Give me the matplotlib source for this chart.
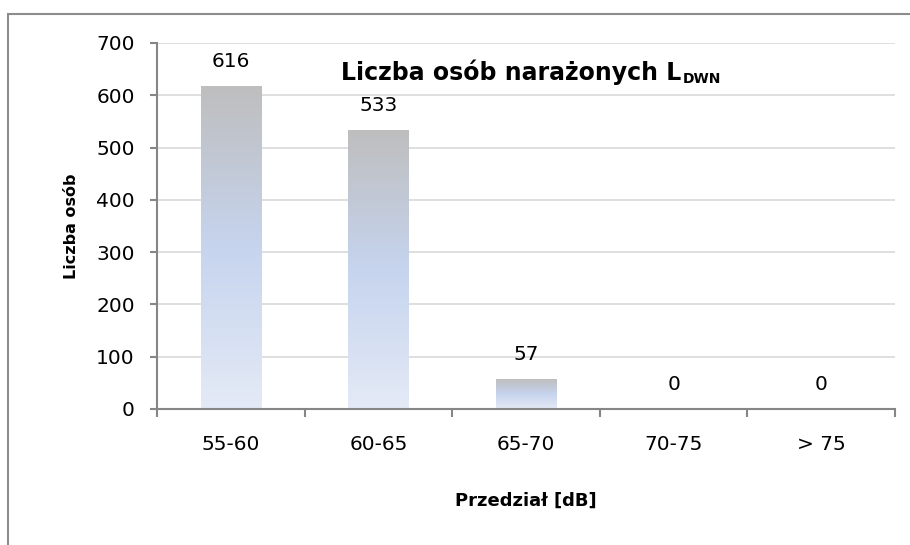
import matplotlib
matplotlib.use('Agg')

import matplotlib.pyplot as plt
import numpy as np
from matplotlib.colors import LinearSegmentedColormap
from matplotlib.patches import Rectangle

plt.rcParams['font.family'] = ['DejaVu Sans']

# --- Data ---
categories = ['55-60', '60-65', '65-70', '70-75', '> 75']
counts = [616, 533, 57, 0, 0]

axis_grey = '#868686'
grid_grey = '#D9D9D9'

fig = plt.figure(figsize=(9.10, 5.45), dpi=100)

# chart area frame (only left/top edges visible, like the source)
fig.patches.append(Rectangle((8 / 910, -0.1), 1.2, 1 - 14 / 545 + 0.1,
                             transform=fig.transFigure, fill=False,
                             edgecolor='#8C8C8C', linewidth=1.5))

ax = fig.add_axes([157 / 910, 1 - 409 / 545, (895 - 157) / 910, (409 - 43) / 545])

x = np.arange(len(categories))
width = 0.41

# bar gradient: grey at the top -> light blue -> very light at the bottom
cmap = LinearSegmentedColormap.from_list(
    'bar', [(0.0, '#E4EAF6'), (0.5, '#C6D4EE'), (1.0, '#BEBEBE')])
grad = np.linspace(0, 1, 256).reshape(-1, 1)

bars = ax.bar(x, counts, width=width, color='none', edgecolor='none')
for b, v in zip(bars, counts):
    if v <= 0:
        continue
    x0 = b.get_x()
    ax.imshow(grad, cmap=cmap, origin='lower', aspect='auto',
              extent=(x0, x0 + b.get_width(), 0, v), zorder=2)

for xi, v in zip(x, counts):
    ax.annotate(str(v), (xi, v), xytext=(0, 18), textcoords='offset points',
                ha='center', va='center', fontsize=14.5)

ax.set_xlim(-0.5, len(categories) - 0.5)
ax.set_ylim(0, 700)
ax.set_yticks(np.arange(0, 701, 100))
ax.set_xticks(x)
ax.set_xticklabels(categories)
ax.set_xticks(np.arange(-0.5, len(categories)), minor=True)

ax.tick_params(axis='x', which='major', length=0, pad=19, labelsize=14.5)
ax.tick_params(axis='x', which='minor', length=6, color=axis_grey, width=1.5)
ax.tick_params(axis='y', length=5, color=axis_grey, width=1.5, pad=11, labelsize=14.5)

ax.grid(axis='y', color=grid_grey, linewidth=1.2)
ax.set_axisbelow(True)
for s in ['top', 'right']:
    ax.spines[s].set_visible(False)
for s in ['left', 'bottom']:
    ax.spines[s].set_color(axis_grey)
    ax.spines[s].set_linewidth(1.5)

ax.set_ylabel('Liczba osób', fontsize=11.5, fontweight='bold', labelpad=12)
ax.set_xlabel('Przedział [dB]', fontsize=13, fontweight='bold', labelpad=27)

# title with subscript
t = fig.text(341 / 910, 1 - 72 / 545, 'Liczba osób narażonych L', fontsize=17,
             fontweight='bold', ha='left', va='center')
fig.canvas.draw()
bb = t.get_window_extent()
fig.text((bb.x1 + 1) / 910, (bb.y0 - 1) / 545, 'DWN', fontsize=10, fontweight='bold',
         ha='left', va='bottom')

fig.savefig('out.png', dpi=100)
